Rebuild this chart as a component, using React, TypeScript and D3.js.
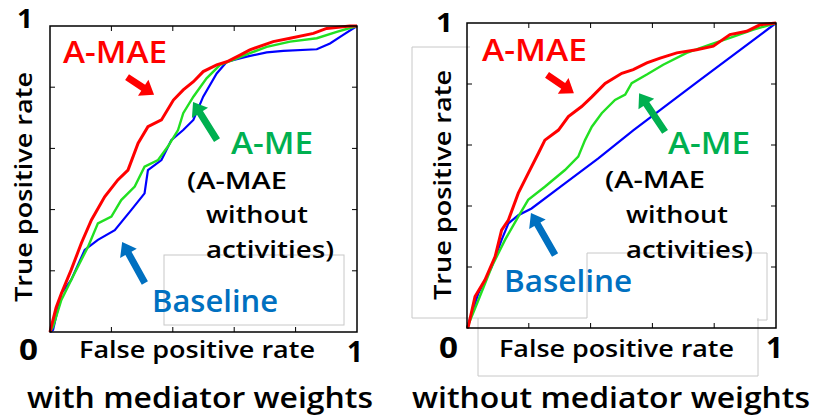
import React from "react";
import * as d3 from "d3";

type Pt = [number, number];

// Left panel: with mediator weights
const leftRed: Pt[] = [[0,0],[0.004,0.017],[0.02,0.08],[0.037,0.126],[0.069,0.203],[0.102,0.29],[0.135,0.366],[0.178,0.442],[0.221,0.497],[0.254,0.529],[0.287,0.617],[0.319,0.671],[0.363,0.693],[0.402,0.758],[0.434,0.791],[0.467,0.818],[0.499,0.851],[0.543,0.873],[0.576,0.883],[0.619,0.905],[0.651,0.922],[0.727,0.949],[0.782,0.96],[0.858,0.976],[0.901,0.992],[0.977,1],[1,1]];
const leftGreen: Pt[] = [[0,0],[0.01,0.017],[0.037,0.105],[0.08,0.192],[0.124,0.279],[0.156,0.355],[0.2,0.377],[0.232,0.431],[0.276,0.475],[0.308,0.54],[0.352,0.562],[0.384,0.606],[0.417,0.66],[0.434,0.715],[0.467,0.769],[0.51,0.829],[0.554,0.873],[0.597,0.889],[0.651,0.911],[0.706,0.932],[0.782,0.949],[0.869,0.96],[0.934,0.981],[1,1]];
const leftBlue: Pt[] = [[0,0],[0.01,0.007],[0.037,0.126],[0.069,0.17],[0.113,0.268],[0.156,0.301],[0.211,0.333],[0.265,0.399],[0.308,0.453],[0.319,0.529],[0.363,0.562],[0.395,0.627],[0.434,0.66],[0.467,0.693],[0.499,0.769],[0.543,0.845],[0.576,0.883],[0.641,0.9],[0.706,0.914],[0.76,0.919],[0.869,0.924],[0.912,0.943],[0.955,0.971],[1,1]];

// Right panel: without mediator weights
const rightRed: Pt[] = [[0,0],[0.004,0.004],[0.026,0.103],[0.058,0.157],[0.091,0.234],[0.112,0.321],[0.134,0.354],[0.166,0.442],[0.198,0.507],[0.231,0.573],[0.252,0.616],[0.296,0.649],[0.328,0.693],[0.371,0.726],[0.404,0.758],[0.447,0.802],[0.501,0.835],[0.538,0.847],[0.582,0.869],[0.625,0.885],[0.679,0.902],[0.743,0.912],[0.797,0.924],[0.851,0.962],[0.905,0.973],[0.948,0.994],[1,1]];
const rightGreen: Pt[] = [[0,0],[0.037,0.092],[0.08,0.201],[0.123,0.289],[0.166,0.365],[0.198,0.42],[0.252,0.463],[0.317,0.518],[0.36,0.562],[0.382,0.616],[0.404,0.66],[0.436,0.704],[0.479,0.748],[0.512,0.765],[0.533,0.803],[0.582,0.831],[0.635,0.863],[0.711,0.902],[0.786,0.929],[0.851,0.951],[0.927,0.978],[1,1]];
const rightBlue: Pt[] = [[0,0],[0.037,0.114],[0.08,0.201],[0.112,0.289],[0.134,0.343],[0.166,0.37],[0.209,0.392],[0.317,0.474],[0.425,0.556],[0.538,0.648],[0.75,0.81],[1,1]];

const tickValues = [0.2, 0.4, 0.6, 0.8];
const titles = ["with mediator weights", "without mediator weights"];

const RED = "#ff0000";
const GREEN_LINE = "#22e022";
const BLUE_LINE = "#0000ff";
const GREEN_TXT = "#00b050";
const BLUE_TXT = "#0070c0";
const FONT = "'Open Sans', Lato, sans-serif";

type Arrow = { tail: Pt; tip: Pt; color: string };

function arrowPath(a: Pt, b: Pt, shaft = 7, head = 19, headLen = 13) {
  const dx = b[0] - a[0], dy = b[1] - a[1];
  const len = Math.hypot(dx, dy);
  const ux = dx / len, uy = dy / len;
  const nx = -uy, ny = ux;
  const bx = b[0] - ux * headLen, by = b[1] - uy * headLen;
  const pts: Pt[] = [
    [a[0] + nx * shaft / 2, a[1] + ny * shaft / 2],
    [bx + nx * shaft / 2, by + ny * shaft / 2],
    [bx + nx * head / 2, by + ny * head / 2],
    [b[0], b[1]],
    [bx - nx * head / 2, by - ny * head / 2],
    [bx - nx * shaft / 2, by - ny * shaft / 2],
    [a[0] - nx * shaft / 2, a[1] - ny * shaft / 2],
  ];
  return "M" + pts.map(p => p.join(",")).join("L") + "Z";
}

function Panel({ x0, x1, y0, y1, red, green, blue, arrows }: {
  x0: number; x1: number; y0: number; y1: number;
  red: Pt[]; green: Pt[]; blue: Pt[]; arrows: Arrow[];
}) {
  const xs = d3.scaleLinear().domain([0, 1]).range([x0, x1]);
  const ys = d3.scaleLinear().domain([0, 1]).range([y1, y0]);
  const line = d3.line<Pt>().x(d => xs(d[0])).y(d => ys(d[1]));
  const tl = 5;
  return (
    <g>
      <path d={line(blue) || ""} fill="none" stroke={BLUE_LINE} strokeWidth={2.2} />
      <path d={line(green) || ""} fill="none" stroke={GREEN_LINE} strokeWidth={2.4} />
      <path d={line(red) || ""} fill="none" stroke={RED} strokeWidth={3} />
      {tickValues.map(t => (
        <g key={t} stroke="#000" strokeWidth={1}>
          <line x1={xs(t)} x2={xs(t)} y1={y1} y2={y1 - tl} />
          <line x1={xs(t)} x2={xs(t)} y1={y0} y2={y0 + tl} />
          <line x1={x0} x2={x0 + tl} y1={ys(t)} y2={ys(t)} />
          <line x1={x1} x2={x1 - tl} y1={ys(t)} y2={ys(t)} />
        </g>
      ))}
      <rect x={x0} y={y0} width={x1 - x0} height={y1 - y0} fill="none" stroke="#000" strokeWidth={1.5} />
      {arrows.map((a, i) => (
        <path key={i} d={arrowPath([xs(a.tail[0]), ys(a.tail[1])], [xs(a.tip[0]), ys(a.tip[1])])} fill={a.color} />
      ))}
    </g>
  );
}

const leftArrows: Arrow[] = [
  { tail: [0.251, 0.833], tip: [0.339, 0.775], color: RED },
  { tail: [0.544, 0.627], tip: [0.466, 0.752], color: GREEN_TXT },
  { tail: [0.309, 0.16], tip: [0.235, 0.294], color: BLUE_TXT },
];
const rightArrows: Arrow[] = [
  { tail: [0.259, 0.83], tip: [0.346, 0.77], color: RED },
  { tail: [0.641, 0.643], tip: [0.557, 0.77], color: GREEN_TXT },
  { tail: [0.285, 0.239], tip: [0.207, 0.377], color: BLUE_TXT },
];

function T({ x, y, w, children, fill, rot }: { x: number; y: number; w: number; children: string; fill?: string; rot?: boolean }) {
  if (rot) {
    return (
      <text transform={`translate(${x},${y}) rotate(-90)`} textAnchor="middle" textLength={w} lengthAdjust="spacingAndGlyphs" fill={fill}>{children}</text>
    );
  }
  return <text x={x} y={y} textLength={w} lengthAdjust="spacingAndGlyphs" fill={fill}>{children}</text>;
}

export default function App() {
  const g = "#c8c8c8";
  return (
    <svg width={814} height={419} style={{ position: "absolute", left: 0, top: 0, background: "#fff" }} fontFamily={FONT}>
      {/* faint text-box outlines */}
      <rect x={164} y={255} width={180} height={70} fill="none" stroke={g} strokeWidth={1} />
      <path d="M470,47H412V318H587V253H767V320H757 M478,318V376H758V318" fill="none" stroke={g} strokeWidth={1} />

      <Panel x0={50} x1={357} y0={26} y1={332} red={leftRed} green={leftGreen} blue={leftBlue} arrows={leftArrows} />
      <Panel x0={467} x1={776} y0={23} y1={328} red={rightRed} green={rightGreen} blue={rightBlue} arrows={rightArrows} />

      <g fontWeight={700}>
        <g fontSize={26}>
          <T x={17} y={28} w={16}>1</T>
          <T x={436} y={32} w={17}>1</T>
        </g>
        <g fontSize={29}>
          <T x={19} y={360} w={19}>0</T>
          <T x={347} y={362} w={16}>1</T>
          <T x={439} y={358} w={19}>0</T>
          <T x={766} y={358} w={17}>1</T>
        </g>
      </g>
      <g fontSize={22.5} fontWeight={600}>
        <T x={32} y={187} w={230} rot>True positive rate</T>
        <T x={79} y={358} w={236}>False positive rate</T>
        <T x={451} y={185} w={230} rot>True positive rate</T>
        <T x={499} y={357} w={235}>False positive rate</T>
      </g>
      <g fontSize={28} fontWeight={600}>
        <T x={27} y={408} w={346}>{titles[0]}</T>
        <T x={412} y={408} w={398}>{titles[1]}</T>
      </g>
      <g fontSize={30} fontWeight={600}>
        <T x={63} y={63} w={104} fill={RED}>A-MAE</T>
        <T x={231} y={154} w={82} fill={GREEN_TXT}>A-ME</T>
        <T x={152} y={312} w={126} fill={BLUE_TXT}>Baseline</T>
        <T x={482} y={61} w={105} fill={RED}>A-MAE</T>
        <T x={668} y={154} w={82} fill={GREEN_TXT}>A-ME</T>
        <T x={504} y={292} w={128} fill={BLUE_TXT}>Baseline</T>
      </g>
      <g fontSize={22.5} fontWeight={600}>
        <T x={187} y={189} w={100}>(A-MAE</T>
        <T x={206} y={223} w={102}>without</T>
        <T x={206} y={258} w={128}>activities)</T>
        <T x={605} y={188} w={100}>(A-MAE</T>
        <T x={626} y={223} w={102}>without</T>
        <T x={626} y={258} w={127}>activities)</T>
      </g>
    </svg>
  );
}
